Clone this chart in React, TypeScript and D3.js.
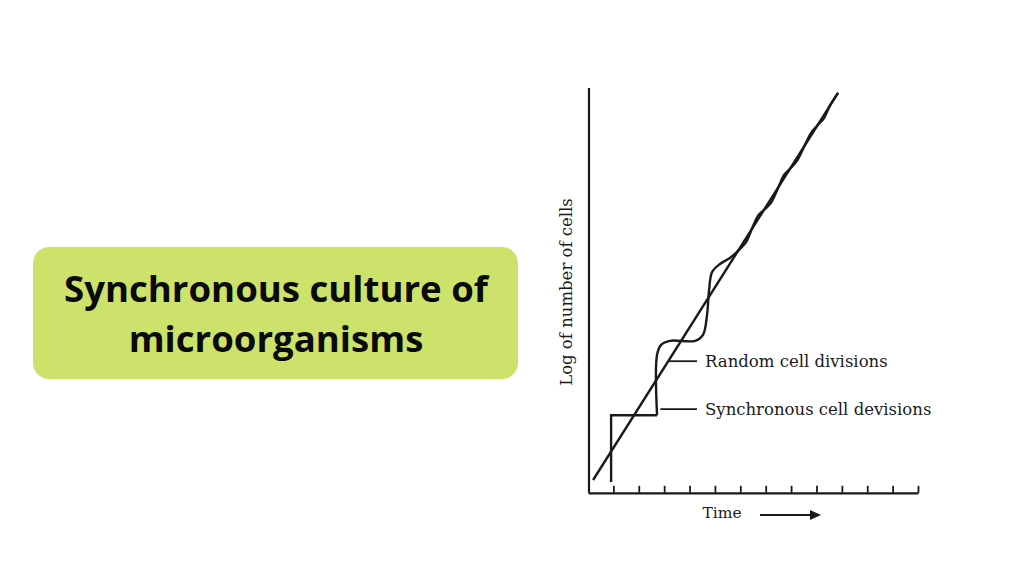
import * as d3 from 'd3'
import { useEffect, useRef } from 'react'

// time ticks along the x axis (no labels in the figure)
const timeTicks = [1, 2, 3, 4, 5, 6, 7, 8, 9, 10, 11, 12, 13]

// ideal exponential growth (log scale -> straight line)
const idealTime = [0.2, 9.85]
const idealLog = [0.25, 9.93]

// synchronous divisions: step part
const syncTime = [0.91, 0.91, 2.72]
const syncLog = [0.2, 1.87, 1.87]

// after synchrony: steps flatten out into random divisions that wind round the line
const randomTime = [
  2.72, 2.72, 2.88, 3.23, 4.22, 4.53, 4.69, 4.77, 4.89, 5.2, 5.59, 5.99, 6.22, 6.46, 6.7,
  6.93, 7.21, 7.49, 7.72, 7.96, 8.23, 8.51, 8.79, 9.06, 9.3, 9.53, 9.85,
]
const randomLog = [
  1.87, 3.38, 3.63, 3.73, 3.73, 3.88, 4.38, 5.0, 5.45, 5.65, 5.8, 6.03, 6.19, 6.53, 6.86,
  7.0, 7.18, 7.55, 7.87, 8.03, 8.23, 8.58, 8.93, 9.13, 9.3, 9.61, 9.93,
]

const labels = ['Random cell divisions', 'Synchronous cell devisions']
const labelLog = [3.22, 2.02]
const labelFromTime = [3.15, 2.85]

export default function App() {
  const svgRef = useRef<SVGSVGElement>(null)

  useEffect(() => {
    if (!svgRef.current) return
    const svg = d3.select(svgRef.current)
    svg.selectAll('*').remove()

    const width = 1024
    const height = 576
    svg.attr('width', width).attr('height', height)

    svg.append('rect').attr('width', width).attr('height', height).attr('fill', '#ffffff')

    // Title box
    svg
      .append('rect')
      .attr('x', 33)
      .attr('y', 247)
      .attr('width', 485)
      .attr('height', 132)
      .attr('rx', 16)
      .attr('fill', '#cde26b')

    const title = svg
      .append('text')
      .attr('text-anchor', 'middle')
      .style('font-family', '"Open Sans", sans-serif')
      .style('font-weight', 'bold')
      .style('font-size', '36.6px')
      .attr('fill', '#0a0a0a')
    title.append('tspan').attr('x', 276).attr('y', 302).text('Synchronous culture of')
    title.append('tspan').attr('x', 276).attr('y', 352).text('microorganisms')

    // Chart
    const xScale = d3.scaleLinear().domain([0, 13]).range([588, 918])
    const yScale = d3.scaleLinear().domain([0, 10]).range([490, 90])

    const ink = '#1a1a1a'
    const g = svg.append('g')

    // x axis with small upward ticks
    g.append('g')
      .attr('transform', `translate(0,${yScale(-0.07)})`)
      .call(
        d3
          .axisBottom(xScale)
          .tickValues(timeTicks)
          .tickSize(-7)
          .tickSizeOuter(0)
          .tickFormat(() => '')
      )
      .call(sel => sel.selectAll('path').attr('stroke', ink).attr('stroke-width', 2.2))
      .call(sel => sel.selectAll('line').attr('stroke', ink).attr('stroke-width', 1.8))

    // y axis (plain line)
    g.append('line')
      .attr('x1', xScale(0) + 1)
      .attr('x2', xScale(0) + 1)
      .attr('y1', yScale(10.05))
      .attr('y2', yScale(-0.07))
      .attr('stroke', ink)
      .attr('stroke-width', 2.2)

    const line = d3
      .line<[number, number]>()
      .x(d => xScale(d[0]))
      .y(d => yScale(d[1]))

    // straight line
    g.append('path')
      .attr('d', line(idealTime.map((t, i) => [t, idealLog[i]]))!)
      .attr('fill', 'none')
      .attr('stroke', ink)
      .attr('stroke-width', 2.4)

    // synchronous step
    g.append('path')
      .attr('d', line(syncTime.map((t, i) => [t, syncLog[i]]))!)
      .attr('fill', 'none')
      .attr('stroke', ink)
      .attr('stroke-width', 2.4)
      .attr('stroke-linejoin', 'miter')

    // random divisions curve
    g.append('path')
      .attr('d', line.curve(d3.curveCatmullRom.alpha(0.5))(randomTime.map((t, i) => [t, randomLog[i]]))!)
      .attr('fill', 'none')
      .attr('stroke', ink)
      .attr('stroke-width', 2.4)

    // annotations
    labels.forEach((lab, i) => {
      const y = yScale(labelLog[i])
      g.append('line')
        .attr('x1', xScale(labelFromTime[i]))
        .attr('x2', 697)
        .attr('y1', y)
        .attr('y2', y)
        .attr('stroke', ink)
        .attr('stroke-width', 1.8)
      g.append('text')
        .attr('x', 705)
        .attr('y', y + 6)
        .style('font-family', '"DejaVu Serif", serif')
        .style('font-size', '16.5px')
        .attr('fill', ink)
        .text(lab)
    })

    // axis titles
    g.append('text')
      .attr('x', 722)
      .attr('y', 518)
      .attr('text-anchor', 'middle')
      .style('font-family', '"DejaVu Serif", serif')
      .style('font-size', '15.5px')
      .attr('fill', ink)
      .text('Time')

    g.append('line')
      .attr('x1', 760)
      .attr('x2', 812)
      .attr('y1', 515)
      .attr('y2', 515)
      .attr('stroke', ink)
      .attr('stroke-width', 1.8)
    g.append('path')
      .attr('d', 'M810,510 L821,515 L810,520 Z')
      .attr('fill', ink)

    g.append('text')
      .attr('transform', 'translate(572,292) rotate(-90)')
      .attr('text-anchor', 'middle')
      .style('font-family', '"DejaVu Serif", serif')
      .style('font-size', '16.5px')
      .attr('fill', ink)
      .text('Log of number of cells')
  }, [])

  return (
    <svg
      ref={svgRef}
      style={{ position: 'absolute', left: 0, top: 0, display: 'block' }}
    ></svg>
  )
}
